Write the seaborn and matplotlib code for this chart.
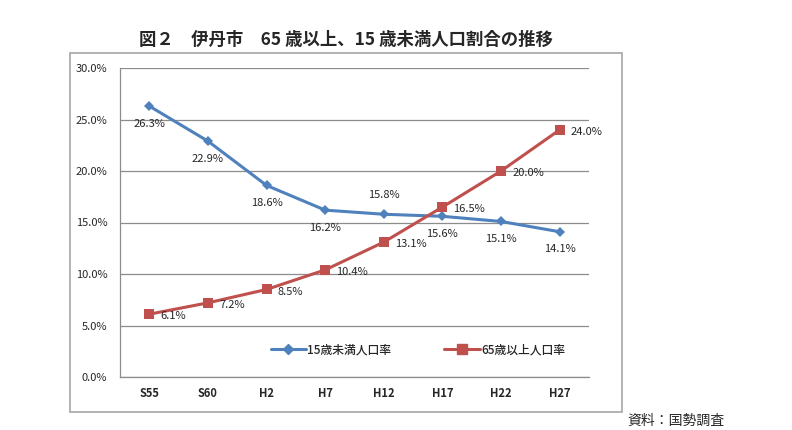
import pandas as pd
import matplotlib.pyplot as plt
import seaborn as sns
from matplotlib.patches import Rectangle
from matplotlib.lines import Line2D

# data
years = ['S55', 'S60', 'H2', 'H7', 'H12', 'H17', 'H22', 'H27']
under15 = [26.3, 22.9, 18.6, 16.2, 15.8, 15.6, 15.1, 14.1]
over65 = [6.1, 7.2, 8.5, 10.4, 13.1, 16.5, 20.0, 24.0]
name_u15 = '15歳未満人口率'
name_o65 = '65歳以上人口率'
y_ticks = [0, 5, 10, 15, 20, 25, 30]

BLUE = '#4F81BD'
RED = '#C0504D'

sns.set_style("white")
plt.rcParams['font.family'] = ['Noto Sans CJK JP', 'DejaVu Sans']

df = pd.DataFrame({'year': years, name_u15: under15, name_o65: over65})
df_long = df.melt(id_vars='year', var_name='series', value_name='rate')

fig = plt.figure(figsize=(7.92, 4.30), dpi=100)
ax = fig.add_axes([120 / 792, 53 / 430, 469 / 792, 309 / 430])

sns.lineplot(data=df_long, x='year', y='rate', hue='series', style='series',
             markers={name_u15: 'D', name_o65: 's'}, dashes=False,
             palette={name_u15: BLUE, name_o65: RED}, linewidth=2.2,
             markersize=7, markeredgewidth=0, legend=False, ax=ax, sort=False)
# size the diamond a bit smaller than the square
ax.lines[0].set_markersize(5.5)

ax.set_xlim(-0.5, len(years) - 0.5)
ax.set_ylim(0, 30)
ax.set_yticks(y_ticks)
ax.set_yticklabels([f'{v:.1f}%' for v in y_ticks], fontsize=8)
ax.set_xticks(range(len(years)))
ax.set_xticklabels(years, fontsize=8, fontweight='bold')
ax.set_xticks([i - 0.5 for i in range(len(years) + 1)], minor=True)
ax.tick_params(axis='x', which='major', length=0, pad=7)
ax.tick_params(axis='x', which='minor', length=4, color='#888888', direction='out')
ax.tick_params(axis='y', length=4, color='#888888', direction='out', pad=5)
ax.set_xlabel('')
ax.set_ylabel('')
ax.yaxis.grid(True, color='#8c8c8c', linewidth=0.9)
ax.xaxis.grid(False)
for side in ['top', 'right']:
    ax.spines[side].set_visible(False)
for side in ['left', 'bottom']:
    ax.spines[side].set_color('#8c8c8c')
    ax.spines[side].set_linewidth(0.9)

# data labels
for i, v in enumerate(under15):
    if years[i] == 'H12':
        ax.annotate(f'{v:.1f}%', (i, v), xytext=(0, 10), textcoords='offset points',
                    ha='center', va='bottom', fontsize=8)
    else:
        ax.annotate(f'{v:.1f}%', (i, v), xytext=(0, -9), textcoords='offset points',
                    ha='center', va='top', fontsize=8)
for i, v in enumerate(over65):
    ax.annotate(f'{v:.1f}%', (i, v), xytext=(8, -1.5), textcoords='offset points',
                ha='left', va='center', fontsize=8)

handles = [Line2D([], [], color=BLUE, marker='D', markersize=5, linewidth=2.2),
           Line2D([], [], color=RED, marker='s', markersize=7, linewidth=2.2)]
ax.legend(handles, [name_u15, name_o65], loc='center', bbox_to_anchor=(0.635, 0.087),
          ncol=2, frameon=False, prop={'size': 8.5, 'weight': 'medium'},
          handlelength=3.0, handletextpad=0.1, columnspacing=4.5)

# outer chart frame
fig.patches.append(Rectangle((70 / 792, 18 / 430), 552 / 792, 359 / 430,
                             transform=fig.transFigure, fill=False,
                             edgecolor='#a6a6a6', linewidth=1.2))

fig.text(346 / 792, 1 - 40 / 430, '図２　伊丹市　65 歳以上、15 歳未満人口割合の推移',
         ha='center', va='center', fontsize=12.5, fontweight='bold')
fig.text(627 / 792, 1 - 421 / 430, '資料：国勢調査', ha='left', va='center', fontsize=10)

fig.savefig('out.png', dpi=100)
